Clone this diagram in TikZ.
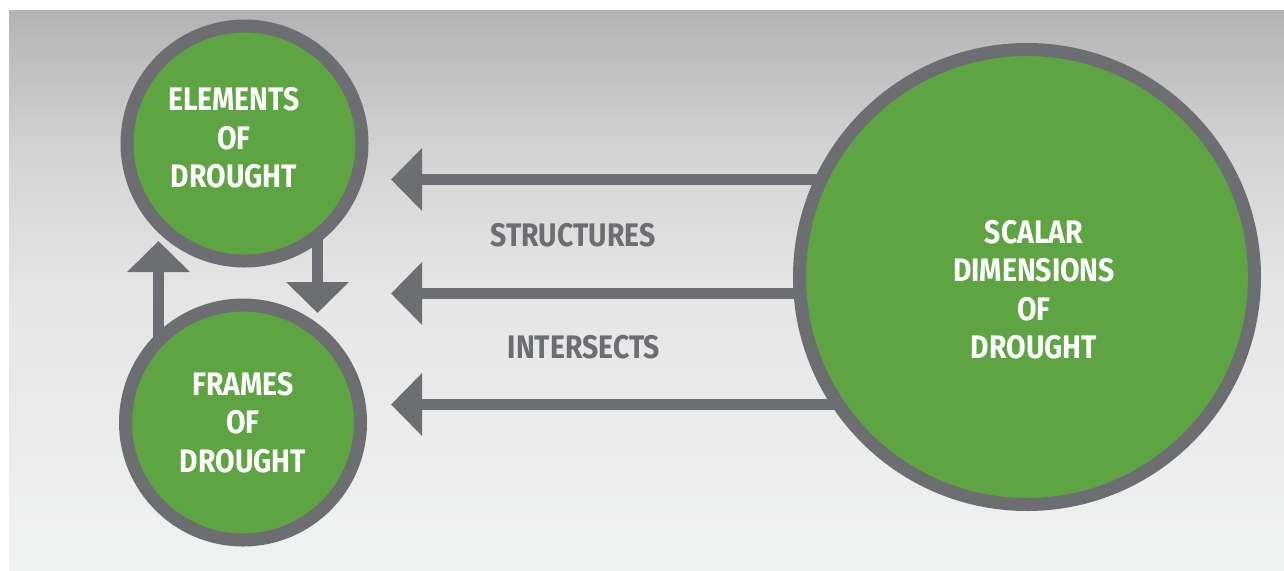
\documentclass[tikz,border=0pt]{standalone}
\usepackage{fontspec}
\newfontfamily\labelfont[FakeStretch=0.87]{Fira Sans}
\usetikzlibrary{arrows.meta,backgrounds}

\definecolor{ringgray}{HTML}{6D6E71}
\definecolor{leafgreen}{HTML}{5FA443}
\definecolor{bgtop}{HTML}{B3B3B3}
\definecolor{bgupper}{HTML}{D3D3D3}
\definecolor{bgmid}{HTML}{E5E5E5}
\definecolor{bgbottom}{HTML}{F1F2F2}

\tikzset{
  disc/.style={circle, draw=ringgray, fill=leafgreen, line width=6.5pt,
               inner sep=0pt, minimum size=#1},
  disctext/.style={text=white, align=center,
                   font=\labelfont\bfseries\fontsize{16.3}{19.25}\selectfont},
  linklabel/.style={text=ringgray,
                    font=\labelfont\bfseries\fontsize{16.3}{19.25}\selectfont},
  flowarrow/.style={draw=ringgray, line width=5.5pt,
                    -{Triangle[length=15.5pt,width=30.5pt]}}
}

\begin{document}
\begin{tikzpicture}[x=0.5pt,y=-0.5pt]
  \useasboundingbox (0,0) rectangle (1284,570);

  % circles
  \node (elem) at (244.5,143.5) [disc=117.5pt] {};
  \node (frame) at (243,422.5) [disc=117.5pt] {};
  \node (scal) at (1027,277) [disc=227.5pt] {};

  \node (elemtext) at (234,138) [disctext] {ELEMENTS\\OF\\DROUGHT};
  \node (frametext) at (243,422.5) [disctext] {FRAMES\\OF\\DROUGHT};
  \node (scaltext) at (1034,289.5) [disctext] {SCALAR\\DIMENSIONS\\OF\\DROUGHT};

  \node (struct) at (573,235) [linklabel] {STRUCTURES};
  \node (inter) at (584,347) [linklabel] {INTERSECTS};

  \begin{pgfonlayer}{background}
    % backdrop, lightening fast towards the bottom
    \fill[top color=bgtop, bottom color=bgupper] (9,10) rectangle (1284,150.5);
    \fill[top color=bgupper, bottom color=bgmid] (9,150) rectangle (1284,290.5);
    \fill[top color=bgmid, bottom color=bgbottom] (9,290) rectangle (1284,570);

    \coordinate (h1) at (391,179.5);
    \coordinate (h2) at (391,293.5);
    \coordinate (h3) at (391,404.5);
    \coordinate (up) at (158.5,241);
    \coordinate (down) at (317.5,313);

    \draw [flowarrow] (scal.center |- h1) -- (h1);
    \draw [flowarrow] (scal.center |- h2) -- (h2);
    \draw [flowarrow] (scal.center |- h3) -- (h3);
    \draw [flowarrow] (up |- frame.center) -- (up);
    \draw [flowarrow] (down |- elem.center) -- (down);
  \end{pgfonlayer}
\end{tikzpicture}
\end{document}
